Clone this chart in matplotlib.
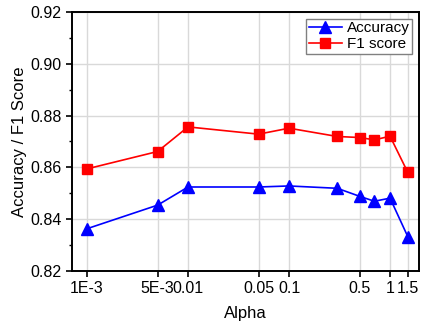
import matplotlib
matplotlib.use("Agg")
import matplotlib.pyplot as plt
from matplotlib.ticker import FixedLocator, MultipleLocator, NullLocator

alpha = [0.001, 0.005, 0.01, 0.05, 0.1, 0.3, 0.5, 0.7, 1.0, 1.5]
accuracy = [0.8363, 0.8454, 0.8524, 0.8524, 0.8528, 0.8519, 0.8488, 0.8469, 0.8481, 0.8332]
f1_score = [0.8594, 0.8661, 0.8756, 0.8728, 0.8751, 0.8719, 0.8715, 0.8706, 0.8720, 0.8580]

xticks = [0.001, 0.005, 0.01, 0.05, 0.1, 0.5, 1, 1.5]
xtick_labels = ["1E-3", "5E-3", "0.01", "0.05", "0.1", "0.5", "1", "1.5"]

plt.rcParams["font.family"] = ["Liberation Sans", "DejaVu Sans"]

fig = plt.figure(figsize=(4.21, 3.30), dpi=100)
ax = fig.add_axes([0.171, 0.179, 0.824, 0.785])

ax.plot(alpha, accuracy, color="#0000ff", marker="^", markersize=8.5,
        linewidth=1.2, label="Accuracy")
ax.plot(alpha, f1_score, color="#ff0000", marker="s", markersize=7,
        linewidth=1.2, label="F1 score")

ax.set_xscale("log")
ax.set_xlim(7.1e-4, 1.93)
ax.xaxis.set_major_locator(FixedLocator(xticks))
ax.xaxis.set_minor_locator(NullLocator())
ax.set_xticklabels(xtick_labels)

ax.set_ylim(0.82, 0.92)
ax.yaxis.set_major_locator(MultipleLocator(0.02))
ax.yaxis.set_minor_locator(MultipleLocator(0.01))
ax.set_yticklabels(["%.2f" % v for v in ax.get_yticks()])

ax.grid(True, which="major", color="#d9d9d9", linewidth=1.0)
ax.set_axisbelow(True)

ax.tick_params(axis="both", which="major", direction="out", length=4, width=1.2,
               labelsize=11.5, top=False, right=False)
ax.tick_params(axis="y", which="minor", direction="out", length=2.5, width=1.0)
for s in ax.spines.values():
    s.set_linewidth(1.4)

ax.set_xlabel("Alpha", fontsize=12, labelpad=7)
ax.set_ylabel("Accuracy / F1 Score", fontsize=12, labelpad=2)

leg = ax.legend(loc="upper right", fontsize=11, fancybox=False, framealpha=1,
                edgecolor="#808080", handlelength=2.2, borderpad=0.15,
                labelspacing=0.15, handletextpad=0.3, borderaxespad=0.45)
leg.get_frame().set_linewidth(1.0)

fig.savefig("out.png", dpi=100)
